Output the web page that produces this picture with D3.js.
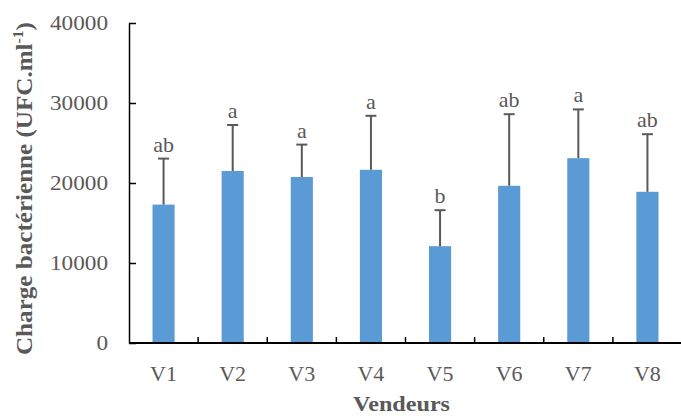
<!DOCTYPE html>
<html>
<head>
<meta charset="utf-8">
<script src="https://cdn.jsdelivr.net/npm/d3@7"></script>
<style>
  body { margin: 0; background: #fff; }
  text { font-family: "Liberation Serif", "Times New Roman", serif; fill: #595959; }
</style>
</head>
<body>
<div id="plot"></div>
<script>
// Chart data
var vendeurs = ["V1", "V2", "V3", "V4", "V5", "V6", "V7", "V8"];
var moyennes = [17300, 21500, 20750, 21650, 12100, 19650, 23100, 18900];
var ecarts = [5750, 5750, 4050, 6750, 4500, 8950, 6100, 7200];
var lettres = ["ab", "a", "a", "a", "b", "ab", "a", "ab"];
var yTicks = [0, 10000, 20000, 30000, 40000];

var svgWidth = 681;
var svgHeight = 416;

var margin = { top: 23, right: -1, bottom: 73, left: 129 };

var chartWidth = svgWidth - margin.left - margin.right;
var chartHeight = svgHeight - margin.top - margin.bottom;

var svg = d3.select("#plot")
  .append("svg")
  .attr("width", svgWidth)
  .attr("height", svgHeight);

var chartGroup = svg.append("g")
  .attr("transform", `translate(${margin.left}, ${margin.top})`);

// scales
var xBandScale = d3.scaleBand()
  .domain(vendeurs)
  .range([0, chartWidth])
  .padding(0);

var yLinearScale = d3.scaleLinear()
  .domain([0, 40000])
  .range([chartHeight, 0]);

var barWidth = xBandScale.bandwidth() * 0.32;

// bars
chartGroup.selectAll("rect.bar")
  .data(vendeurs)
  .enter()
  .append("rect")
  .attr("class", "bar")
  .attr("x", (d, i) => xBandScale(d) + xBandScale.bandwidth() / 2 - barWidth / 2)
  .attr("y", (d, i) => yLinearScale(moyennes[i]))
  .attr("width", barWidth)
  .attr("height", (d, i) => chartHeight - yLinearScale(moyennes[i]))
  .attr("fill", "#5b9bd5");

// error bars
var errGroup = chartGroup.append("g")
  .attr("stroke", "#595959")
  .attr("stroke-width", 2);

vendeurs.forEach(function(d, i) {
  var cx = xBandScale(d) + xBandScale.bandwidth() / 2;
  var yTop = yLinearScale(moyennes[i] + ecarts[i]);
  errGroup.append("line")
    .attr("x1", cx).attr("x2", cx)
    .attr("y1", yLinearScale(moyennes[i]))
    .attr("y2", yTop);
  errGroup.append("line")
    .attr("x1", cx - 5.5).attr("x2", cx + 5.5)
    .attr("y1", yTop).attr("y2", yTop);
  // significance letters
  chartGroup.append("text")
    .attr("x", cx)
    .attr("y", yTop - 7)
    .attr("text-anchor", "middle")
    .style("font-size", "22px")
    .text(lettres[i]);
});

// y axis
var leftAxis = d3.axisLeft(yLinearScale)
  .tickValues(yTicks)
  .tickSizeInner(-7)
  .tickSizeOuter(0)
  .tickPadding(21)
  .tickFormat(d3.format("d"));

var yAxisG = chartGroup.append("g")
  .attr("font-size", 21)
  .attr("font-family", "Liberation Serif")
  .call(leftAxis);
yAxisG.select(".domain").attr("stroke", "#000").attr("stroke-width", 1.5);
yAxisG.selectAll(".tick line").attr("stroke", "#000").attr("stroke-width", 1.5);
// stretch labels a little (the source font is wider), anchored from the start
yAxisG.selectAll(".tick text")
  .attr("fill", "#595959")
  .attr("text-anchor", "start")
  .attr("x", d => -21 - String(d).length * 11.6)
  .attr("textLength", d => String(d).length * 11.6)
  .attr("lengthAdjust", "spacingAndGlyphs")
  .style("font-size", "21px");

// x axis (ticks between categories)
chartGroup.append("line")
  .attr("x1", 0).attr("x2", chartWidth)
  .attr("y1", chartHeight).attr("y2", chartHeight)
  .attr("stroke", "#000")
  .attr("stroke-width", 2);

chartGroup.selectAll("line.xtick")
  .data(vendeurs.slice(1))
  .enter()
  .append("line")
  .attr("class", "xtick")
  .attr("x1", d => xBandScale(d)).attr("x2", d => xBandScale(d))
  .attr("y1", chartHeight).attr("y2", chartHeight - 6)
  .attr("stroke", "#000")
  .attr("stroke-width", 1.5);

chartGroup.selectAll("text.xlabel")
  .data(vendeurs)
  .enter()
  .append("text")
  .attr("class", "xlabel")
  .attr("x", d => xBandScale(d) + xBandScale.bandwidth() / 2)
  .attr("y", chartHeight + 38)
  .attr("text-anchor", "middle")
  .style("font-size", "22px")
  .text(d => d);

// axis titles
chartGroup.append("text")
  .attr("x", (chartWidth / 2) - 52.5)
  .attr("y", chartHeight + 68)
  .attr("textLength", 97)
  .attr("lengthAdjust", "spacingAndGlyphs")
  .style("font-size", "22px")
  .style("font-weight", "bold")
  .text("Vendeurs");

var yTitle = svg.append("text")
  .attr("transform", "translate(32, 355) rotate(-90)")
  .attr("textLength", 333)
  .attr("lengthAdjust", "spacingAndGlyphs")
  .style("font-size", "24px")
  .style("font-weight", "bold");
yTitle.append("tspan").text("Charge bactérienne (UFC.ml");
yTitle.append("tspan").attr("dy", "-9").style("font-size", "15px").text("-1");
yTitle.append("tspan").attr("dy", "9").text(")");
</script>
</body>
</html>
